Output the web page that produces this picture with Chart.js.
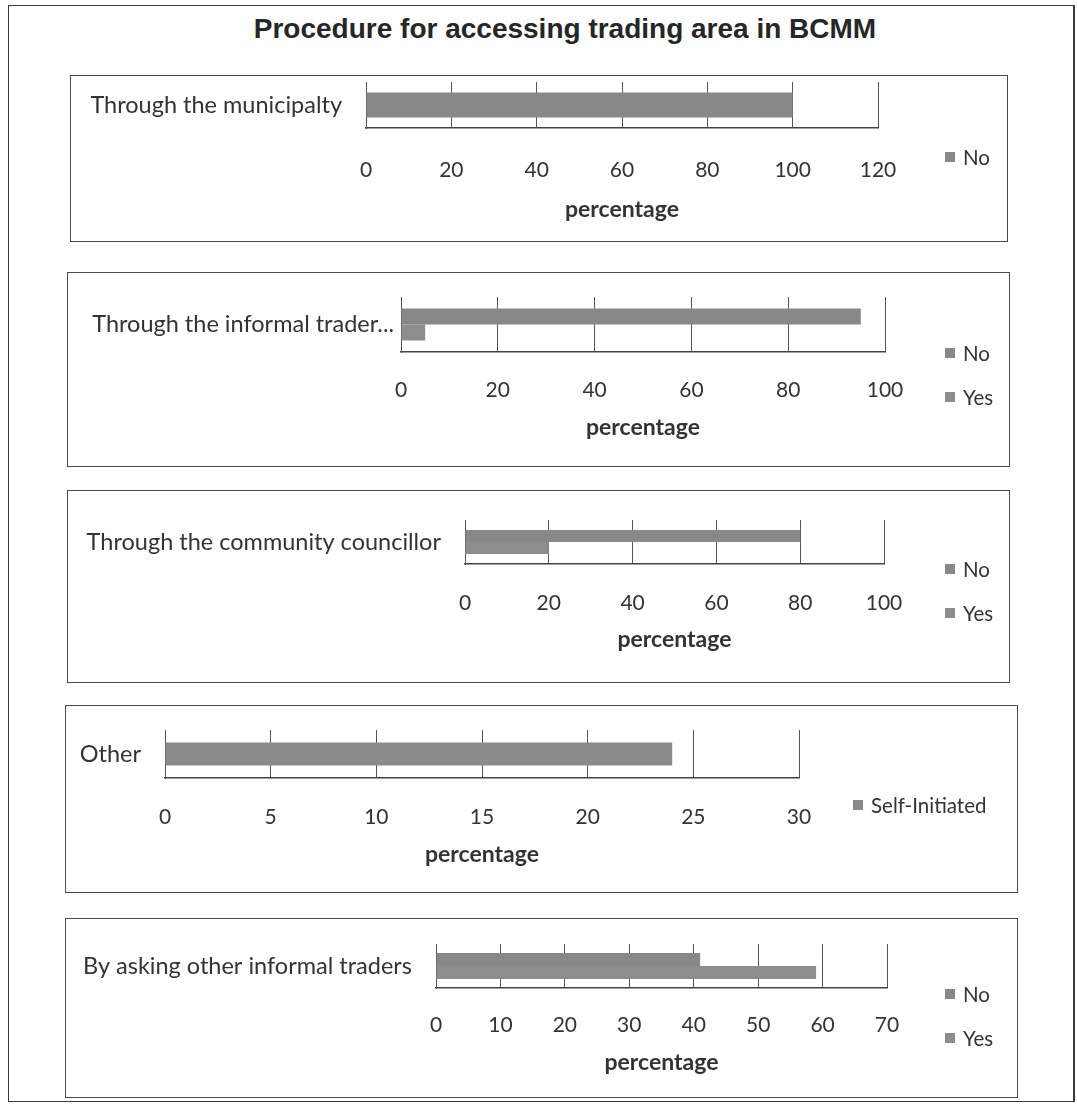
<!DOCTYPE html>
<html>
<head>
<meta charset="utf-8">
<title>Procedure for accessing trading area in BCMM</title>
<script src="https://cdn.jsdelivr.net/npm/chart.js@4.4.1/dist/chart.umd.min.js"></script>
<style>
  html, body { margin: 0; padding: 0; background: #fff; }
  #page { position: relative; width: 1077px; height: 1110px; overflow: hidden; background: #fff; }
  #frame { position: absolute; left: 8px; top: 5px; width: 1067px; height: 1097px;
           border: 1px solid #3a3a3a; border-right-width: 2px; box-sizing: border-box; }
  #title { position: absolute; left: 0; top: 13px; width: 1130px; text-align: center; line-height: 34px;
           font: bold 28px "Liberation Sans", Arial, sans-serif; color: #262626; white-space: nowrap; }
  .box { position: absolute; border: 1px solid #4a4a4a; box-sizing: border-box; pointer-events: none; }
  canvas { position: absolute; }
</style>
</head>
<body>
<div id="page">
  <div id="frame"></div>
  <div id="title"></div>
</div>
<script>
// ---- data ----
const chartTitle = 'Procedure for accessing trading area in BCMM';
const axisTitle = 'percentage';

const categories = [
  'Through the municipalty',
  'Through the informal trader...',
  'Through the community councillor',
  'Other',
  'By asking other informal traders'
];

// percentages per procedure
const municipaltyNo = [100];
const informalTraderNo = [95];
const informalTraderYes = [5];
const councillorNo = [80];
const councillorYes = [20];
const otherSelfInitiated = [24];
const askingTradersNo = [41];
const askingTradersYes = [59];

const axisMax = [120, 100, 100, 30, 70];
const axisStep = [20, 20, 20, 5, 10];

const seriesSets = [
  [['No', municipaltyNo]],
  [['No', informalTraderNo], ['Yes', informalTraderYes]],
  [['No', councillorNo], ['Yes', councillorYes]],
  [['Self-Initiated', otherSelfInitiated]],
  [['No', askingTradersNo], ['Yes', askingTradersYes]]
];

// ---- look ----
const FONT = 'Lato, "Open Sans", sans-serif';
const CAT_FS = 23.5;   // category labels
const TICK_FS = 21;    // axis numbers
const TITLE_FS = 23;   // "percentage"
const LEG_FS = 20.5;   // legend text
const seriesColour = { 'No': '#888888', 'Yes': '#8d8d8d', 'Self-Initiated': '#8a8a8a' };

// panel frames: box [l,t,r,b], plot [l,t,r,b], tick label centre y, axis title centre y,
// category label gap, legend anchor, share of the band filled by bars
const panels = [
  { box: [70, 75, 1008, 242],  plot: [366, 82, 878, 128],  tickY: 170,  titleY: 210,  gap: 24, legend: [945, 157],  band: 0.54 },
  { box: [67, 272, 1010, 467], plot: [401, 297, 885, 352], tickY: 390,  titleY: 428,  gap: 7,  legend: [945, 375],  band: 0.58 },
  { box: [67, 490, 1010, 683], plot: [465, 520, 884, 564], tickY: 603,  titleY: 640,  gap: 24, legend: [945, 591],  band: 0.55 },
  { box: [65, 705, 1018, 893], plot: [165, 730, 799, 778], tickY: 817,  titleY: 855,  gap: 24, legend: [853, 805],  band: 0.48 },
  { box: [65, 918, 1018, 1098], plot: [436, 944, 887, 988], tickY: 1025, titleY: 1063, gap: 24, legend: [945, 1016], band: 0.59 }
];

document.getElementById('title').textContent = chartTitle;

// legend column drawn beside each plot from the chart's own datasets
const sideLegend = {
  id: 'sideLegend',
  afterDraw(chart, args, opts) {
    const ctx = chart.ctx;
    const sets = chart.data.datasets;
    const n = sets.length;
    ctx.save();
    ctx.font = LEG_FS + 'px ' + FONT;
    ctx.textBaseline = 'middle';
    ctx.textAlign = 'left';
    sets.forEach((ds, i) => {
      const y = opts.y + (i - (n - 1) / 2) * opts.spacing;
      ctx.fillStyle = ds.backgroundColor;
      ctx.fillRect(opts.x, Math.round(y - 5), 10, 10);
      ctx.fillStyle = '#333';
      ctx.fillText(ds.label, opts.x + 18, y + 1);
    });
    ctx.restore();
  }
};

const page = document.getElementById('page');

panels.forEach((p, k) => {
  const [bl, bt, br, bb] = p.box;
  const [pl, pt, pr, pb] = p.plot;
  const w = br - bl, h = bb - bt;

  const canvas = document.createElement('canvas');
  canvas.width = w; canvas.height = h;
  canvas.style.left = bl + 'px'; canvas.style.top = bt + 'px';
  canvas.style.width = w + 'px'; canvas.style.height = h + 'px';
  page.appendChild(canvas);

  const frame = document.createElement('div');
  frame.className = 'box';
  frame.style.left = bl + 'px'; frame.style.top = bt + 'px';
  frame.style.width = w + 'px'; frame.style.height = h + 'px';
  page.appendChild(frame);

  new Chart(canvas, {
    type: 'bar',
    data: {
      labels: [categories[k]],
      datasets: seriesSets[k].map(([name, values]) => ({
        label: name,
        data: values,
        backgroundColor: seriesColour[name],
        borderWidth: 0,
        categoryPercentage: p.band,
        barPercentage: 1
      }))
    },
    options: {
      indexAxis: 'y',
      responsive: false,
      animation: false,
      devicePixelRatio: 1,
      layout: { padding: { top: pt - bt, right: br - pr, left: 0, bottom: 0 } },
      plugins: {
        legend: { display: false },
        tooltip: { enabled: false },
        sideLegend: { x: p.legend[0] - bl, y: p.legend[1] - bt, spacing: 44 }
      },
      scales: {
        x: {
          min: 0,
          max: axisMax[k],
          ticks: {
            stepSize: axisStep[k],
            padding: p.tickY - pb - TICK_FS * 0.6,
            color: '#333',
            font: { family: FONT, size: TICK_FS }
          },
          grid: { color: '#555', lineWidth: 1, drawTicks: false },
          border: { display: true, color: '#444', width: 1.5 },
          title: {
            display: true,
            text: axisTitle,
            color: '#333',
            font: { family: FONT, size: TITLE_FS, weight: 'bold' },
            padding: { top: 0, bottom: bb - p.titleY - TITLE_FS * 0.6 }
          },
          afterFit(scale) {
            scale.height = bb - pb;
            scale.paddingLeft = 0;
            scale.paddingRight = 0;
          }
        },
        y: {
          grid: { display: false, drawTicks: false },
          border: { display: true, color: '#555', width: 1 },
          ticks: {
            padding: p.gap,
            color: '#333',
            font: { family: FONT, size: CAT_FS }
          },
          afterFit(scale) {
            scale.width = pl - bl;
            scale.paddingTop = 0;
            scale.paddingBottom = 0;
          }
        }
      }
    },
    plugins: [sideLegend]
  });
});
</script>
</body>
</html>
